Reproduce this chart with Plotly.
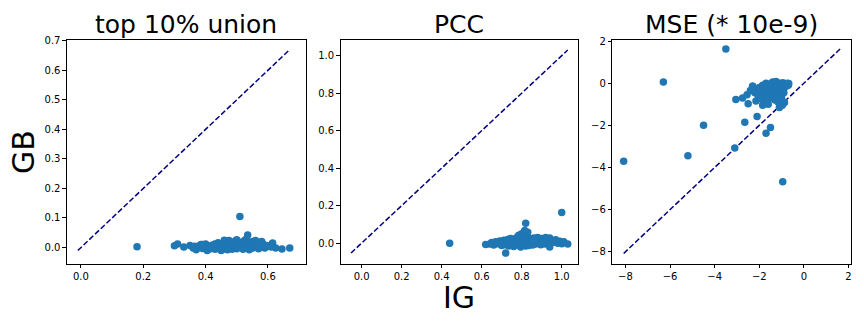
import plotly.graph_objects as go

# ---------------- data ----------------
titles = ["top 10% union", "PCC", "MSE (* 10e-9)"]

union_ig = [0.18, 0.30, 0.31, 0.33, 0.35, 0.36, 0.365, 0.37, 0.38, 0.385, 0.39, 0.40, 0.40, 0.405,
            0.41, 0.415, 0.42, 0.425, 0.43, 0.435, 0.44, 0.44, 0.445, 0.45, 0.45, 0.455, 0.46, 0.46,
            0.465, 0.47, 0.47, 0.475, 0.48, 0.48, 0.485, 0.49, 0.49, 0.495, 0.50, 0.50, 0.505, 0.51,
            0.51, 0.515, 0.52, 0.52, 0.525, 0.53, 0.535, 0.535, 0.54, 0.54, 0.545, 0.55, 0.55, 0.555,
            0.56, 0.565, 0.57, 0.575, 0.58, 0.585, 0.59, 0.60, 0.61, 0.615, 0.625, 0.645, 0.67, 0.46,
            0.50, 0.53, 0.47, 0.43, 0.39, 0.56, 0.58]
union_gb = [0.003, 0.006, 0.012, 0.002, 0.007, -0.002, 0.004, -0.008, 0.006, 0.010, -0.003, 0.002,
            0.012, -0.010, 0.004, -0.004, 0.008, 0.001, -0.006, 0.010, 0.003, 0.016, -0.005, 0.008,
            -0.010, 0.002, 0.014, -0.004, 0.020, 0.006, -0.008, 0.024, 0.010, 0.000, -0.006, 0.016,
            0.004, 0.022, 0.008, -0.004, 0.014, 0.002, 0.105, 0.018, 0.006, -0.006, 0.024, 0.010,
            0.042, 0.000, 0.016, -0.008, 0.006, 0.020, -0.002, 0.010, 0.002, 0.014, -0.004, 0.018,
            0.006, 0.012, -0.002, 0.006, 0.002, 0.015, -0.002, -0.005, -0.002, 0.025, 0.026, 0.028,
            0.000, 0.012, 0.010, 0.024, 0.020]

pcc_ig = [0.44, 0.62, 0.64, 0.65, 0.66, 0.67, 0.68, 0.69, 0.70, 0.70, 0.71, 0.72, 0.72, 0.725, 0.73,
          0.735, 0.74, 0.745, 0.75, 0.755, 0.76, 0.765, 0.77, 0.775, 0.78, 0.785, 0.79, 0.795, 0.80,
          0.80, 0.805, 0.81, 0.815, 0.815, 0.82, 0.82, 0.825, 0.83, 0.83, 0.835, 0.84, 0.845, 0.85,
          0.855, 0.86, 0.865, 0.87, 0.875, 0.88, 0.885, 0.89, 0.895, 0.90, 0.905, 0.91, 0.915, 0.92,
          0.93, 0.94, 0.94, 0.95, 0.96, 0.97, 0.98, 0.99, 1.00, 1.00, 1.01, 1.03, 0.76, 0.78, 0.86, 0.90]
pcc_gb = [0.0, -0.007, -0.005, 0.003, -0.010, 0.008, -0.003, 0.012, -0.012, 0.005, 0.015, -0.053,
          -0.008, 0.010, 0.020, -0.015, 0.003, 0.025, -0.005, 0.012, -0.018, 0.020, 0.002, 0.030,
          -0.010, 0.042, 0.010, -0.020, 0.050, 0.018, -0.005, 0.030, 0.068, 0.000, 0.106, -0.015,
          0.040, 0.012, 0.058, -0.012, 0.025, 0.002, 0.018, -0.010, 0.028, 0.008, -0.005, 0.020,
          0.030, 0.000, 0.015, -0.008, 0.025, 0.005, 0.018, -0.004, 0.030, 0.010, 0.028, -0.020,
          0.012, 0.005, 0.018, 0.000, 0.010, 0.163, -0.003, 0.008, -0.004, 0.008, 0.022, 0.010, 0.000]

mse_ig = [-8.08, -6.3, -3.5, -4.5, -5.2, -3.1, -2.65, -2.1, -1.7, -1.5, -0.95, -3.05, -2.75, -2.5,
          -2.55, -2.15, -2.3, -2.4, -2.3, -2.2, -2.1, -2.05, -2.0, -1.95, -1.9, -1.85, -1.85, -1.8,
          -1.75, -1.7, -1.7, -1.65, -1.6, -1.6, -1.55, -1.5, -1.5, -1.45, -1.4, -1.4, -1.35, -1.3,
          -1.3, -1.25, -1.2, -1.2, -1.15, -1.1, -1.1, -1.05, -1.0, -1.0, -0.97, -0.95, -0.9, -0.87,
          -0.85, -0.8, -0.75, -0.7, -0.68, -1.3, -1.55, -0.9, -1.15]
mse_gb = [-3.7, 0.05, 1.62, -2.0, -3.45, -3.08, -1.85, -1.58, -2.38, -2.1, -4.68, -0.78, -0.7, -0.98,
          -0.55, -0.85, -0.15, -0.35, -0.15, -0.45, -0.3, -0.6, -0.2, -0.4, -0.75, -1.05, -0.1, -0.5,
          -0.3, -0.85, 0.0, -0.6, -1.0, -0.2, -0.4, -0.05, -0.7, -0.25, -0.5, 0.05, -0.15, -0.8,
          -0.35, 0.08, -0.05, -0.55, -0.25, -1.15, 0.0, -0.4, -0.1, -0.7, -1.05, 0.02, -0.25, -0.92,
          -0.05, -0.15, 0.0, -0.1, -0.02, -0.1, -0.05, -0.45, -0.9]

x_ticks = [[0.0, 0.2, 0.4, 0.6], [0.0, 0.2, 0.4, 0.6, 0.8, 1.0], [-8, -6, -4, -2, 0, 2]]
x_ticktext = [["0.0", "0.2", "0.4", "0.6"], ["0.0", "0.2", "0.4", "0.6", "0.8", "1.0"],
              ["\u22128", "\u22126", "\u22124", "\u22122", "0", "2"]]
y_ticks = [[0.0, 0.1, 0.2, 0.3, 0.4, 0.5, 0.6, 0.7], [0.0, 0.2, 0.4, 0.6, 0.8, 1.0], [-8, -6, -4, -2, 0, 2]]
y_ticktext = [["0.0", "0.1", "0.2", "0.3", "0.4", "0.5", "0.6", "0.7"],
              ["0.0", "0.2", "0.4", "0.6", "0.8", "1.0"],
              ["\u22128", "\u22126", "\u22124", "\u22122", "0", "2"]]

# ---------------- layout ----------------
W, H = 864, 324
x_ranges = [[-0.045, 0.721], [-0.105, 1.083], [-8.59, 2.11]]
y_ranges = [[-0.055, 0.704], [-0.11, 1.086], [-8.57, 2.07]]
x_px = [(67, 306), (341, 579), (613, 852)]
y_px = (36, 263)
FONT = "DejaVu Sans"

fig = go.Figure()
series = [(union_ig, union_gb), (pcc_ig, pcc_gb), (mse_ig, mse_gb)]
for i, (xs, ys) in enumerate(series):
    sfx = "" if i == 0 else str(i + 1)
    lo = min(min(xs), min(ys))
    hi = max(max(xs), max(ys))
    fig.add_trace(go.Scatter(x=[lo, hi], y=[lo, hi], mode="lines",
                             line=dict(color="navy", width=1.5, dash="5.5px,2.4px"),
                             xaxis="x" + sfx, yaxis="y" + sfx, showlegend=False,
                             hoverinfo="skip"))
    fig.add_trace(go.Scatter(x=xs, y=ys, mode="markers",
                             marker=dict(color="#1f77b4", size=7.5, line=dict(width=0)),
                             xaxis="x" + sfx, yaxis="y" + sfx, showlegend=False))

axis_common = dict(showgrid=False, zeroline=False, showline=True, linecolor="black",
                   linewidth=1, mirror=True, ticks="outside", ticklen=3.5, tickwidth=0.8,
                   tickcolor="black", tickfont=dict(family=FONT, size=10, color="black"))

layout = dict(width=W, height=H, margin=dict(l=0, r=0, t=0, b=0),
              plot_bgcolor="white", paper_bgcolor="white", showlegend=False)
annotations = []
for i in range(3):
    sfx = "" if i == 0 else str(i + 1)
    x0, x1 = x_px[i]
    layout["xaxis" + sfx] = dict(axis_common, domain=[x0 / W, x1 / W], range=x_ranges[i],
                                 tickvals=x_ticks[i], ticktext=x_ticktext[i],
                                 anchor="y" + sfx)
    layout["yaxis" + sfx] = dict(axis_common, domain=[1 - y_px[1] / H, 1 - y_px[0] / H],
                                 range=y_ranges[i], tickvals=y_ticks[i], ticktext=y_ticktext[i],
                                 anchor="x" + sfx)
    annotations.append(dict(text=titles[i], xref="paper", yref="paper",
                            x=(x0 + x1) / 2 / W, y=1 - 21 / H, xanchor="center",
                            yanchor="middle", showarrow=False,
                            font=dict(family=FONT, size=25, color="black")))

annotations.append(dict(text="GB", xref="paper", yref="paper", x=23 / W, y=1 - 150 / H,
                        xanchor="center", yanchor="middle", textangle=-90, showarrow=False,
                        font=dict(family=FONT, size=30, color="black")))
annotations.append(dict(text="IG", xref="paper", yref="paper", x=460 / W, y=1 - 297 / H,
                        xanchor="center", yanchor="middle", showarrow=False,
                        font=dict(family=FONT, size=30, color="black")))
layout["annotations"] = annotations

fig.update_layout(**layout)
fig.write_html("out.html", config={"displayModeBar": False},
               post_script="document.body.style.margin='0';document.body.style.overflow='hidden';")
